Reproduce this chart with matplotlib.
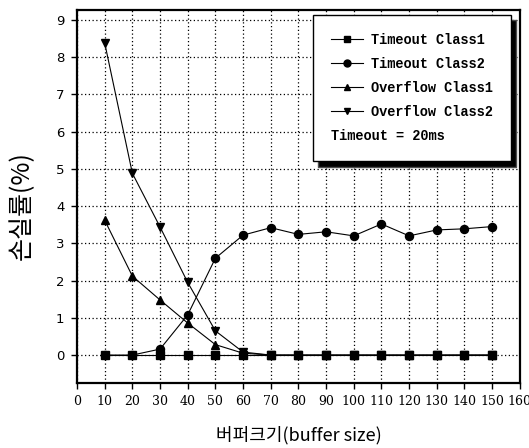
import matplotlib
matplotlib.use("Agg")
import matplotlib.pyplot as plt
from matplotlib.lines import Line2D
from matplotlib.transforms import Affine2D

buffer_sizes = [10, 20, 30, 40, 50, 60, 70, 80, 90, 100, 110, 120, 130, 140, 150]
timeout_class1 = [0, 0, 0, 0, 0, 0, 0, 0, 0, 0, 0, 0, 0, 0, 0]
timeout_class2 = [0, 0, 0.16, 1.08, 2.6, 3.22, 3.42, 3.24, 3.31, 3.2, 3.52, 3.2, 3.36, 3.39, 3.45]
overflow_class1 = [3.62, 2.12, 1.48, 0.86, 0.28, 0.05, 0, 0, 0, 0, 0, 0, 0, 0, 0]
overflow_class2 = [8.38, 4.88, 3.44, 1.95, 0.65, 0.08, 0, 0, 0, 0, 0, 0, 0, 0, 0]
series_names = ["Timeout Class1", "Timeout Class2", "Overflow Class1", "Overflow Class2"]
note_text = "Timeout = 20ms"
x_ticks = list(range(0, 161, 10))
y_ticks = list(range(0, 10))

plt.rcParams['font.family'] = ['Noto Sans CJK KR', 'DejaVu Sans']

fig = plt.figure(figsize=(5.29, 4.48), dpi=100)
ax = fig.add_axes([0.1456, 0.1451, 0.837, 0.833])

markers = ['s', 'o', '^', 'v']
msizes = [5.5, 5.8, 6.2, 6.2]
data = [timeout_class1, timeout_class2, overflow_class1, overflow_class2]
handles = []
for name, m, ms, ys in zip(series_names, markers, msizes, data):
    l, = ax.plot(buffer_sizes, ys, color='black', lw=0.8, marker=m, markersize=ms,
                 markerfacecolor='black', markeredgecolor='black', label=name, zorder=3)
    handles.append(l)

ax.set_xlim(0, 160)
ax.set_ylim(-0.75, 9.27)
ax.set_xticks(x_ticks)
ax.set_yticks(y_ticks)
ax.set_xticklabels([str(v) for v in x_ticks], family='DejaVu Serif', fontsize=9)
ax.set_yticklabels([str(v) for v in y_ticks], family='DejaVu Sans', fontsize=9.5)
ax.tick_params(direction='out', length=4, width=1, colors='black', pad=5)
ax.grid(True, color='black', linestyle=(0, (1, 2)), linewidth=0.9)
for s in ax.spines.values():
    s.set_linewidth(1.6)

ax.set_xlabel("버퍼크기(buffer size)", fontsize=13)
ax.set_ylabel("손실률(%)", fontsize=18)
ax.xaxis.set_label_coords(0.5, -0.115)
ax.yaxis.set_label_coords(-0.095, 0.475)

fs = 9.8
hl = 2.4
htp = 0.6
extra = Line2D([], [], linestyle='none', marker=None)
leg = ax.legend(handles + [extra], series_names + [note_text],
                loc='upper right', bbox_to_anchor=(0.98, 0.9866), borderaxespad=0,
                prop={'family': 'Liberation Mono', 'size': fs, 'weight': 'bold'},
                fancybox=False, framealpha=1, edgecolor='black', handlelength=hl,
                handletextpad=htp, labelspacing=0.75, borderpad=1.3,
                shadow={'ox': 4, 'oy': -4, 'facecolor': 'black', 'alpha': 1})
leg.get_frame().set_linewidth(1.0)
leg.set_zorder(5)
for h in leg.legend_handles:
    h.set_markersize(5)
t = leg.get_texts()[-1]
dx = (hl + htp) * fs * fig.dpi / 72.0
t.set_transform(t.get_transform() + Affine2D().translate(-dx, 0))

fig.savefig("out.png", dpi=100)
